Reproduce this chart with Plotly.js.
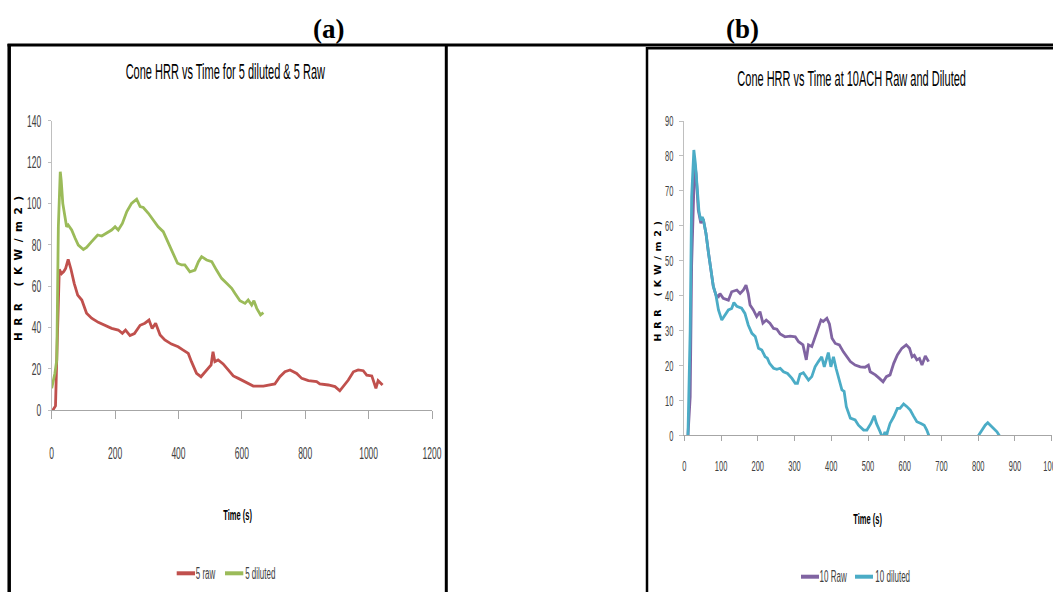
<!DOCTYPE html>
<html><head><meta charset="utf-8">
<script src="https://cdn.plot.ly/plotly-3.0.1.min.js"></script>
<style>html,body{margin:0;padding:0;background:#fff;overflow:hidden}</style>
</head><body><div id="chart" style="width:1053px;height:592px"></div>
<script>
// ---- Data: panel (a) ----
const raw5Time = [0,8,12,16,21,24,31,38,44,52,61,71,82,95,110,126,147,168,189,210,223,233,247,261,279,294,307,317,328,342,357,378,399,415,431,441,457,471,480,492,503,509,515,525,541,557,573,589,608,636,668,704,720,736,752,773,789,810,836,846,873,894,909,920,936,952,967,983,994,1010,1023,1030,1044];
const raw5HRR  = [-1,1,2,25,62,68,66,67,68.5,72.9,68,61.3,55.6,53.2,46.8,44.4,42.4,40.8,39.5,38.7,37.1,38.7,36,37,41,42,43.5,39.5,42,36.3,33.9,31.9,30.6,29,27.4,23.4,17.7,16.1,17.7,20.2,21.8,28.2,23.4,24.2,22.3,19.4,16.5,15.3,13.7,11.6,11.6,12.6,16.1,18.5,19.4,17.7,15.3,14.2,13.7,12.6,12.1,11.3,9.3,11.3,14.5,18.5,19.4,19,16.9,16.5,10.5,14.2,12.1];
const dil5Time = [0,10,16,21,27,30,35,40,47,52,63,74,84,100,110,126,145,158,174,189,200,210,223,237,252,268,279,289,305,320,336,352,368,384,397,410,420,436,452,463,473,489,505,520,536,552,568,578,594,610,620,631,638,647,659,668];
const dil5HRR  = [10.5,17.7,24.2,88.7,115.3,111,100,95.2,88.7,89.5,87.1,83.1,79.8,77.7,78.7,81.5,84.7,84.2,85.8,87.1,88.7,87.1,90.3,96,100,102,98.4,98,95.2,91.9,88.7,86.3,80.6,75,71,70.2,70.2,66.9,67.7,71.8,74.2,72.6,71.8,67.7,63.7,61.3,58.9,56.5,52.9,51.6,53.2,50.8,52.9,49.2,46,47.1];
// ---- Data: panel (b) ----
const raw10Time = [10,16,20,25,28,32,38,45,49,52,59,66,72,79,86,93,97,106,120,129,143,152,161,168,174,179,188,197,206,214,223,233,243,252,261,274,288,302,311,323,332,338,347,356,365,372,378,388,395,402,411,422,433,443,452,465,479,492,501,506,520,531,541,550,560,570,580,592,604,613,620,626,633,640,647,656,665];
const raw10HRR  = [0,11,49,73,78,75,64.5,60.7,62,61.7,57.8,52.1,47.3,42.6,40.2,39.7,40.6,39.2,38.7,41.1,41.6,40.6,41.6,43,40.6,37.3,35.9,34,35.4,32.1,33,32.1,30.6,30.4,29,28.2,28.4,28.2,26.8,25.9,21.6,25.9,25.4,28.2,30.6,33,32.6,33.5,31.9,27.8,26.3,25.9,23.9,22.5,21.1,20.1,19.6,19.5,20.1,18.2,17.3,16.3,15.3,16.8,17.3,20.6,23,24.9,25.9,24.9,22.5,22.9,21.6,22,20.1,22.7,21.1];
const dil10Time = [10,16,20,26,30,35,40,45,49,52,59,66,72,79,86,93,102,111,120,129,135,143,156,165,174,184,193,202,211,220,226,232,243,252,261,270,281,293,302,308,315,324,338,347,356,365,374,381,392,399,406,413,422,429,435,441,452,465,474,488,497,508,517,523,533,541,546,549,553,560,570,580,587,597,606,615,624,633,644,653,660,669,700,780,801,810,819,826,832,842,851,860];
const dil10HRR  = [0,30,68.3,81.7,78,70,64,61.5,62.5,61.7,57.8,52.1,47.3,42.6,40.2,35.9,33,34.4,35.9,36.3,38,36.9,36.4,34.9,31.6,29.2,28.3,24.9,24.4,22.5,22.1,20.6,19.2,18.9,19.2,18.2,17.7,16.3,14.9,14.9,17.5,17.9,15.8,16.8,19.6,21.1,22.5,19.6,23.7,19.6,22.5,19.2,15.8,13,12.6,8.2,4.9,4.4,2.9,1.5,1.5,3.4,5.6,3.4,1,-1,1,-1,1,3.4,5.3,7.7,7.7,9,8.2,7.2,5.5,3.9,3.4,2.9,1.5,-1,-6,-6,0,1.5,2.9,3.6,2.9,2,1,-0.5];

const seriesNames = ['5 raw','5 diluted','10 Raw','10 diluted'];
const seriesColors = ['#C0504D','#9BBB59','#8064A2','#4BACC6'];
const titles = ['Cone HRR vs Time for 5 diluted & 5 Raw','Cone HRR vs Time at 10ACH Raw and Diluted'];
const xTitle = 'Time (s)';
const yTitle = 'HRR (KW/m2)';
const panelLabels = ['(a)','(b)'];

const W = 1053, H = 592;
const PX = x => x / W, PY = y => 1 - y / H;
const FONT = 'Liberation Sans, Arial, sans-serif';

const traces = [
  {x: raw5Time, y: raw5HRR, xaxis:'x', yaxis:'y', name: seriesNames[0]},
  {x: dil5Time, y: dil5HRR, xaxis:'x', yaxis:'y', name: seriesNames[1]},
  {x: raw10Time, y: raw10HRR, xaxis:'x2', yaxis:'y2', name: seriesNames[2]},
  {x: dil10Time, y: dil10HRR, xaxis:'x2', yaxis:'y2', name: seriesNames[3]}
].map((t,i) => Object.assign(t, {type:'scatter', mode:'lines', line:{color:seriesColors[i], width:2.8}, showlegend:false, hoverinfo:'skip'}));

function axisBase(size){
  return {ticks:'outside', tickwidth:1, showline:true, linewidth:1, showgrid:false, zeroline:false,
          tickfont:{family:FONT, size:size, color:'#404040'}, fixedrange:true, ticklabeloverflow:'allow'};
}
const layout = {
  width:W, height:H, margin:{l:0,r:0,t:0,b:0}, paper_bgcolor:'#fff', plot_bgcolor:'#fff', showlegend:false,
  xaxis: Object.assign(axisBase(17), {domain:[PX(51.7), PX(432)], anchor:'y', range:[0,1200], tick0:0, dtick:200, ticklen:8, tickcolor:'#A6A6A6', linecolor:'#A6A6A6', ticklabelstandoff:20}),
  yaxis: Object.assign(axisBase(17), {domain:[PY(410), PY(120.7)], anchor:'x', range:[0,140], tick0:0, dtick:20, ticklen:3, tickcolor:'#BFBFBF', linecolor:'#BFBFBF', ticklabelstandoff:3}),
  xaxis2: Object.assign(axisBase(15), {domain:[PX(684.3), PX(1051.7)], anchor:'y2', range:[0,1000], tick0:0, dtick:100, ticklen:5, tickcolor:'#A6A6A6', linecolor:'#A6A6A6', ticklabelstandoff:12}),
  yaxis2: Object.assign(axisBase(15), {domain:[PY(435.3), PY(121)], anchor:'x2', range:[0,90], tick0:0, dtick:10, ticklen:4, tickcolor:'#BFBFBF', linecolor:'#BFBFBF', ticklabelstandoff:3}),
  shapes: [],
  annotations: []
};
const ref = {xref:'paper', yref:'paper'};
function hline(x0,x1,y,w,c){ layout.shapes.push(Object.assign({type:'line', x0:PX(x0), x1:PX(x1), y0:PY(y), y1:PY(y), line:{color:c||'#000', width:w}}, ref)); }
function vline(x,y0,y1,w){ layout.shapes.push(Object.assign({type:'line', x0:PX(x), x1:PX(x), y0:PY(y0), y1:PY(y1), line:{color:'#000', width:w}}, ref)); }
function text(t,x,y,font,extra){ layout.annotations.push(Object.assign({text:t, x:PX(x), y:PY(y), xanchor:'center', yanchor:'middle', showarrow:false, font:font}, ref, extra||{})); }

// frames
hline(7.5, 1053, 45, 3);
vline(9.2, 44, 600, 3.5);
vline(446.3, 44, 600, 3);
hline(646, 1053, 48.3, 2.5);
vline(647, 47, 600, 2.5);

// panel labels
text(panelLabels[0], 328, 29, {family:'Liberation Serif, Times New Roman, serif', size:27, color:'#000', weight:'bold'});
text(panelLabels[1], 742, 29, {family:'Liberation Serif, Times New Roman, serif', size:27, color:'#000', weight:'bold'});
// chart titles
text(titles[0], 225.7, 71, {family:FONT, size:22, color:'#000'});
text(titles[1], 851.7, 78, {family:FONT, size:22, color:'#000'});
// axis titles
text(xTitle, 237, 514, {family:FONT, size:15, color:'#000', weight:'bold'});
text(xTitle, 868, 518, {family:FONT, size:15, color:'#000', weight:'bold'});
text('<span style="letter-spacing:6.5px">'+yTitle+'</span>', 18, 265, {family:'DejaVu Sans, sans-serif', size:10.5, color:'#000', weight:'bold'}, {textangle:-90});
text('<span style="letter-spacing:4.8px">'+yTitle+'</span>', 656.5, 279, {family:'DejaVu Sans, sans-serif', size:9.5, color:'#000', weight:'bold'}, {textangle:-90});
// legends
const legendItems = [
  {i:0, sx0:176.7, sx1:195, y:573.3, tx:206},
  {i:1, sx0:225, sx1:243.3, y:573.3, tx:260.5},
  {i:2, sx0:801, sx1:819, y:576.7, tx:833.5},
  {i:3, sx0:855, sx1:873, y:576.7, tx:892.5}
];
legendItems.forEach(it => {
  hline(it.sx0, it.sx1, it.y, 4, seriesColors[it.i]);
  text(seriesNames[it.i], it.tx, it.y, {family:FONT, size:16, color:'#404040'});
});

Plotly.newPlot('chart', traces, layout, {displayModeBar:false, staticPlot:true}).then(gd => {
  gd.querySelectorAll('text').forEach(t => {
    const s = (t.textContent || '').trim();
    if (!s || s.indexOf('HRR (') === 0 || s === '(a)' || s === '(b)') return;
    const L = t.getComputedTextLength();
    if (L > 0) {
      t.setAttribute('textLength', (L * 0.5).toFixed(2));
      t.setAttribute('lengthAdjust', 'spacingAndGlyphs');
    }
  });
});
</script></body></html>
